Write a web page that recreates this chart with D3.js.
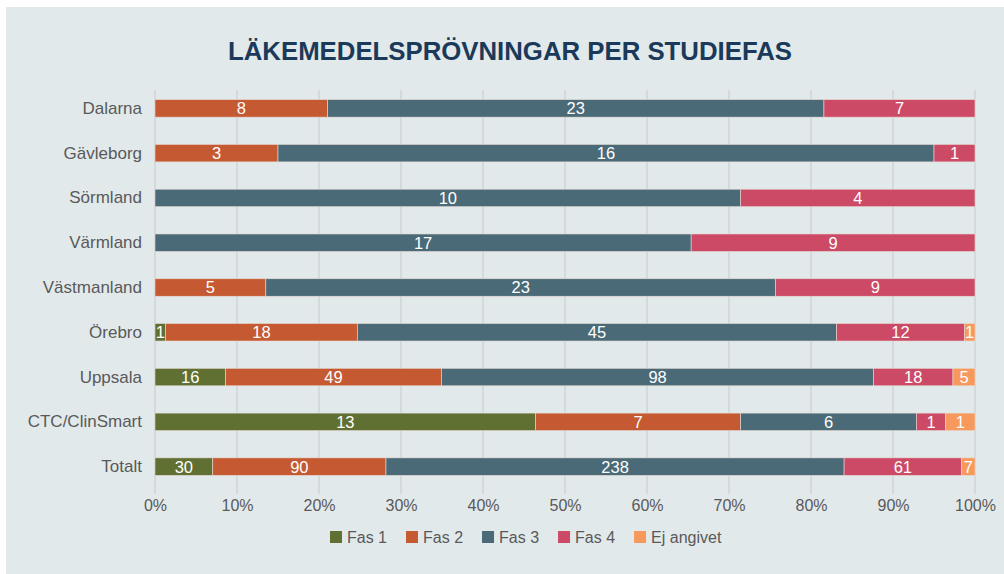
<!DOCTYPE html>
<html><head><meta charset="utf-8">
<script src="https://cdn.jsdelivr.net/npm/d3@7"></script>
<style>
html,body{margin:0;padding:0;background:#fff;}
svg{display:block;}
</style></head>
<body>
<svg id="c" width="1004" height="574"></svg>
<script>
const categories = ["Dalarna","Gävleborg","Sörmland","Värmland","Västmanland","Örebro","Uppsala","CTC/ClinSmart","Totalt"];
const seriesNames = ["Fas 1","Fas 2","Fas 3","Fas 4","Ej angivet"];
const fas1 = [0,0,0,0,0,1,16,13,30];
const fas2 = [8,3,0,0,5,18,49,7,90];
const fas3 = [23,16,10,17,23,45,98,6,238];
const fas4 = [7,1,4,9,9,12,18,1,61];
const ejAngivet = [0,0,0,0,0,1,5,1,7];
const tickValues = [0,0.1,0.2,0.3,0.4,0.5,0.6,0.7,0.8,0.9,1];
const colors = ["#5f7032","#c55a32","#4a6a77","#cc4a66","#f7995c"];
const title = "LÄKEMEDELSPRÖVNINGAR PER STUDIEFAS";

const seriesVals = [fas1,fas2,fas3,fas4,ejAngivet];
const rows = categories.map((c,i)=>{
  const o={cat:c};
  seriesNames.forEach((s,j)=>o[s]=seriesVals[j][i]);
  return o;
});
const stacked = d3.stack().keys(seriesNames).offset(d3.stackOffsetExpand)(rows);
const FONT = "'Liberation Sans',Arial,sans-serif";

const svg = d3.select("#c");
svg.append("rect").attr("x",6).attr("y",7).attr("width",998).attr("height",567).attr("fill","#e2e9eb");

svg.append("text").attr("x",510).attr("y",60).attr("text-anchor","middle")
  .attr("font-family",FONT)
  .attr("font-weight","bold").attr("font-size",26).attr("fill","#1b3a5a")
  .attr("textLength",564).attr("lengthAdjust","spacingAndGlyphs")
  .text(title);

const x = d3.scaleLinear().domain([0,1]).range([155,975]);
const y = d3.scaleBand().domain(categories).range([86,489]).paddingInner(0.61).paddingOuter(0.305);

// gridlines
svg.append("g").selectAll("line").data(tickValues).join("line")
  .attr("x1",d=>x(d)).attr("x2",d=>x(d)).attr("y1",90).attr("y2",494)
  .attr("stroke","#cdd2d4").attr("stroke-width",1.3);

// x axis
const xAxis = svg.append("g").attr("transform","translate(0,494)")
  .call(d3.axisBottom(x).tickValues(tickValues).tickFormat(d3.format(".0%")).tickSize(0).tickPadding(6));
xAxis.select(".domain").remove();
xAxis.selectAll("text").attr("font-family",FONT).attr("font-size",16).attr("fill","#595959");

// y axis
const yAxis = svg.append("g").attr("transform","translate(142,0)")
  .call(d3.axisLeft(y).tickSize(0).tickPadding(0));
yAxis.select(".domain").remove();
yAxis.selectAll("text").attr("font-family",FONT).attr("font-size",17).attr("fill","#595959");

// bars
const g = svg.append("g").selectAll("g").data(stacked).join("g").attr("fill",(d,i)=>colors[i]);
g.selectAll("rect").data(d=>d.map(v=>({v,key:d.key}))).join("rect")
  .attr("x",d=>x(d.v[0])).attr("width",d=>Math.max(0,x(d.v[1])-x(d.v[0])))
  .attr("y",d=>y(d.v.data.cat)).attr("height",y.bandwidth())
  .attr("stroke","#e6d9d2").attr("stroke-width",d=>d.v.data[d.key]>0?0.6:0);

// value labels
g.selectAll("text").data(d=>d.map(v=>({v,key:d.key}))).join("text")
  .filter(d=>d.v.data[d.key]>0)
  .attr("x",d=>(x(d.v[0])+x(d.v[1]))/2).attr("y",d=>y(d.v.data.cat)+y.bandwidth()/2)
  .attr("dy","0.36em").attr("text-anchor","middle")
  .attr("font-family",FONT).attr("font-size",16.5).attr("fill","#ffffff")
  .text(d=>d.v.data[d.key]);

// legend
const legend = svg.append("g").attr("transform","translate(330,537)");
let lx = 0;
seriesNames.forEach((s,i)=>{
  const it = legend.append("g").attr("transform",`translate(${lx},0)`);
  it.append("rect").attr("x",0).attr("y",-6).attr("width",12).attr("height",12).attr("fill",colors[i]);
  const t = it.append("text").attr("x",17).attr("y",0).attr("dy","0.36em")
    .attr("font-family",FONT).attr("font-size",16).attr("fill","#595959").text(s);
  lx += 17 + t.node().getComputedTextLength() + 19;
});
</script>
</body></html>
